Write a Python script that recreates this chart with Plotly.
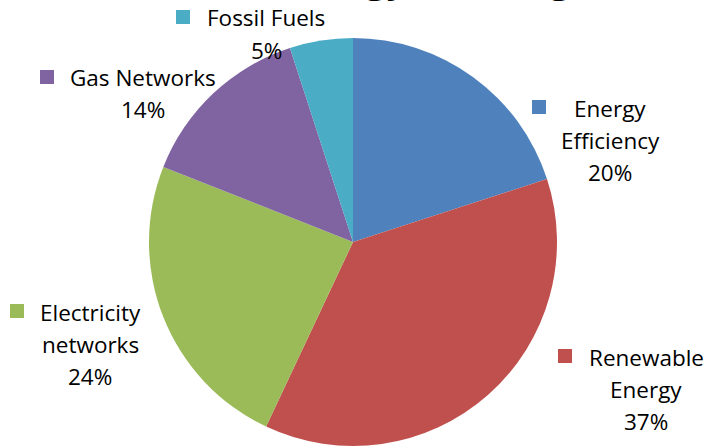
import plotly.graph_objects as go

# ---- data ----
categories = ["Energy Efficiency", "Renewable Energy", "Electricity networks", "Gas Networks", "Fossil Fuels"]
values = [20, 37, 24, 14, 5]
colors = ["#4F81BD", "#C0504D", "#9BBB59", "#8064A2", "#4BACC6"]
label_lines = {
    "Energy Efficiency": ["Energy", "Efficiency"],
    "Renewable Energy": ["Renewable", "Energy"],
    "Electricity networks": ["Electricity", "networks"],
    "Gas Networks": ["Gas Networks"],
    "Fossil Fuels": ["Fossil Fuels"],
}
title_text = "Energy Funding"

# ---- layout (pixel positions) ----
W, H = 708, 447
FONT = "Open Sans"
FS = 22.5
LINE = 32
# center x of text block, y of first line center, square left x
label_pos = {
    "Energy Efficiency": (610, 108, 532),
    "Renewable Energy": (646, 357, 558),
    "Electricity networks": (90, 312, 10),
    "Gas Networks": (143, 78, 40),
    "Fossil Fuels": (266, 18, 176),
}
cx, cy, r = 353, 242, 204

def px(x):
    return x / W

def py(y):
    return 1 - y / H

fig = go.Figure(go.Pie(
    labels=categories,
    values=values,
    sort=False,
    direction="clockwise",
    rotation=0,
    marker=dict(colors=colors, line=dict(width=0)),
    textinfo="none",
    hoverinfo="label+percent",
    showlegend=False,
    domain=dict(x=[px(cx - r), px(cx + r)], y=[py(cy + r), py(cy - r)]),
))

total = sum(values)
annotations = []
shapes = []
for cat, v, col in zip(categories, values, colors):
    tx, ty, sx = label_pos[cat]
    lines = label_lines[cat] + [f"{round(v / total * 100)}%"]
    for i, ln in enumerate(lines):
        annotations.append(dict(
            x=px(tx), y=py(ty + i * LINE), xref="paper", yref="paper",
            xanchor="center", yanchor="middle", showarrow=False,
            text=ln, font=dict(family=FONT, size=FS, color="#000000"),
        ))
    shapes.append(dict(
        type="rect", xref="paper", yref="paper",
        x0=px(sx), x1=px(sx + 14), y0=py(ty - 1 + 7), y1=py(ty - 1 - 7),
        fillcolor=col, line=dict(width=0),
    ))

# title, mostly cut off at top of the image
annotations.append(dict(
    x=px(425), y=py(4.5), xref="paper", yref="paper",
    xanchor="center", yanchor="bottom", showarrow=False,
    text=f"<b>{title_text}</b>", font=dict(family=FONT, size=38, color="#000000"),
))

fig.update_layout(
    width=W, height=H,
    margin=dict(l=0, r=0, t=0, b=0),
    paper_bgcolor="white", plot_bgcolor="white",
    annotations=annotations, shapes=shapes,
)

fig.write_html("out.html")
